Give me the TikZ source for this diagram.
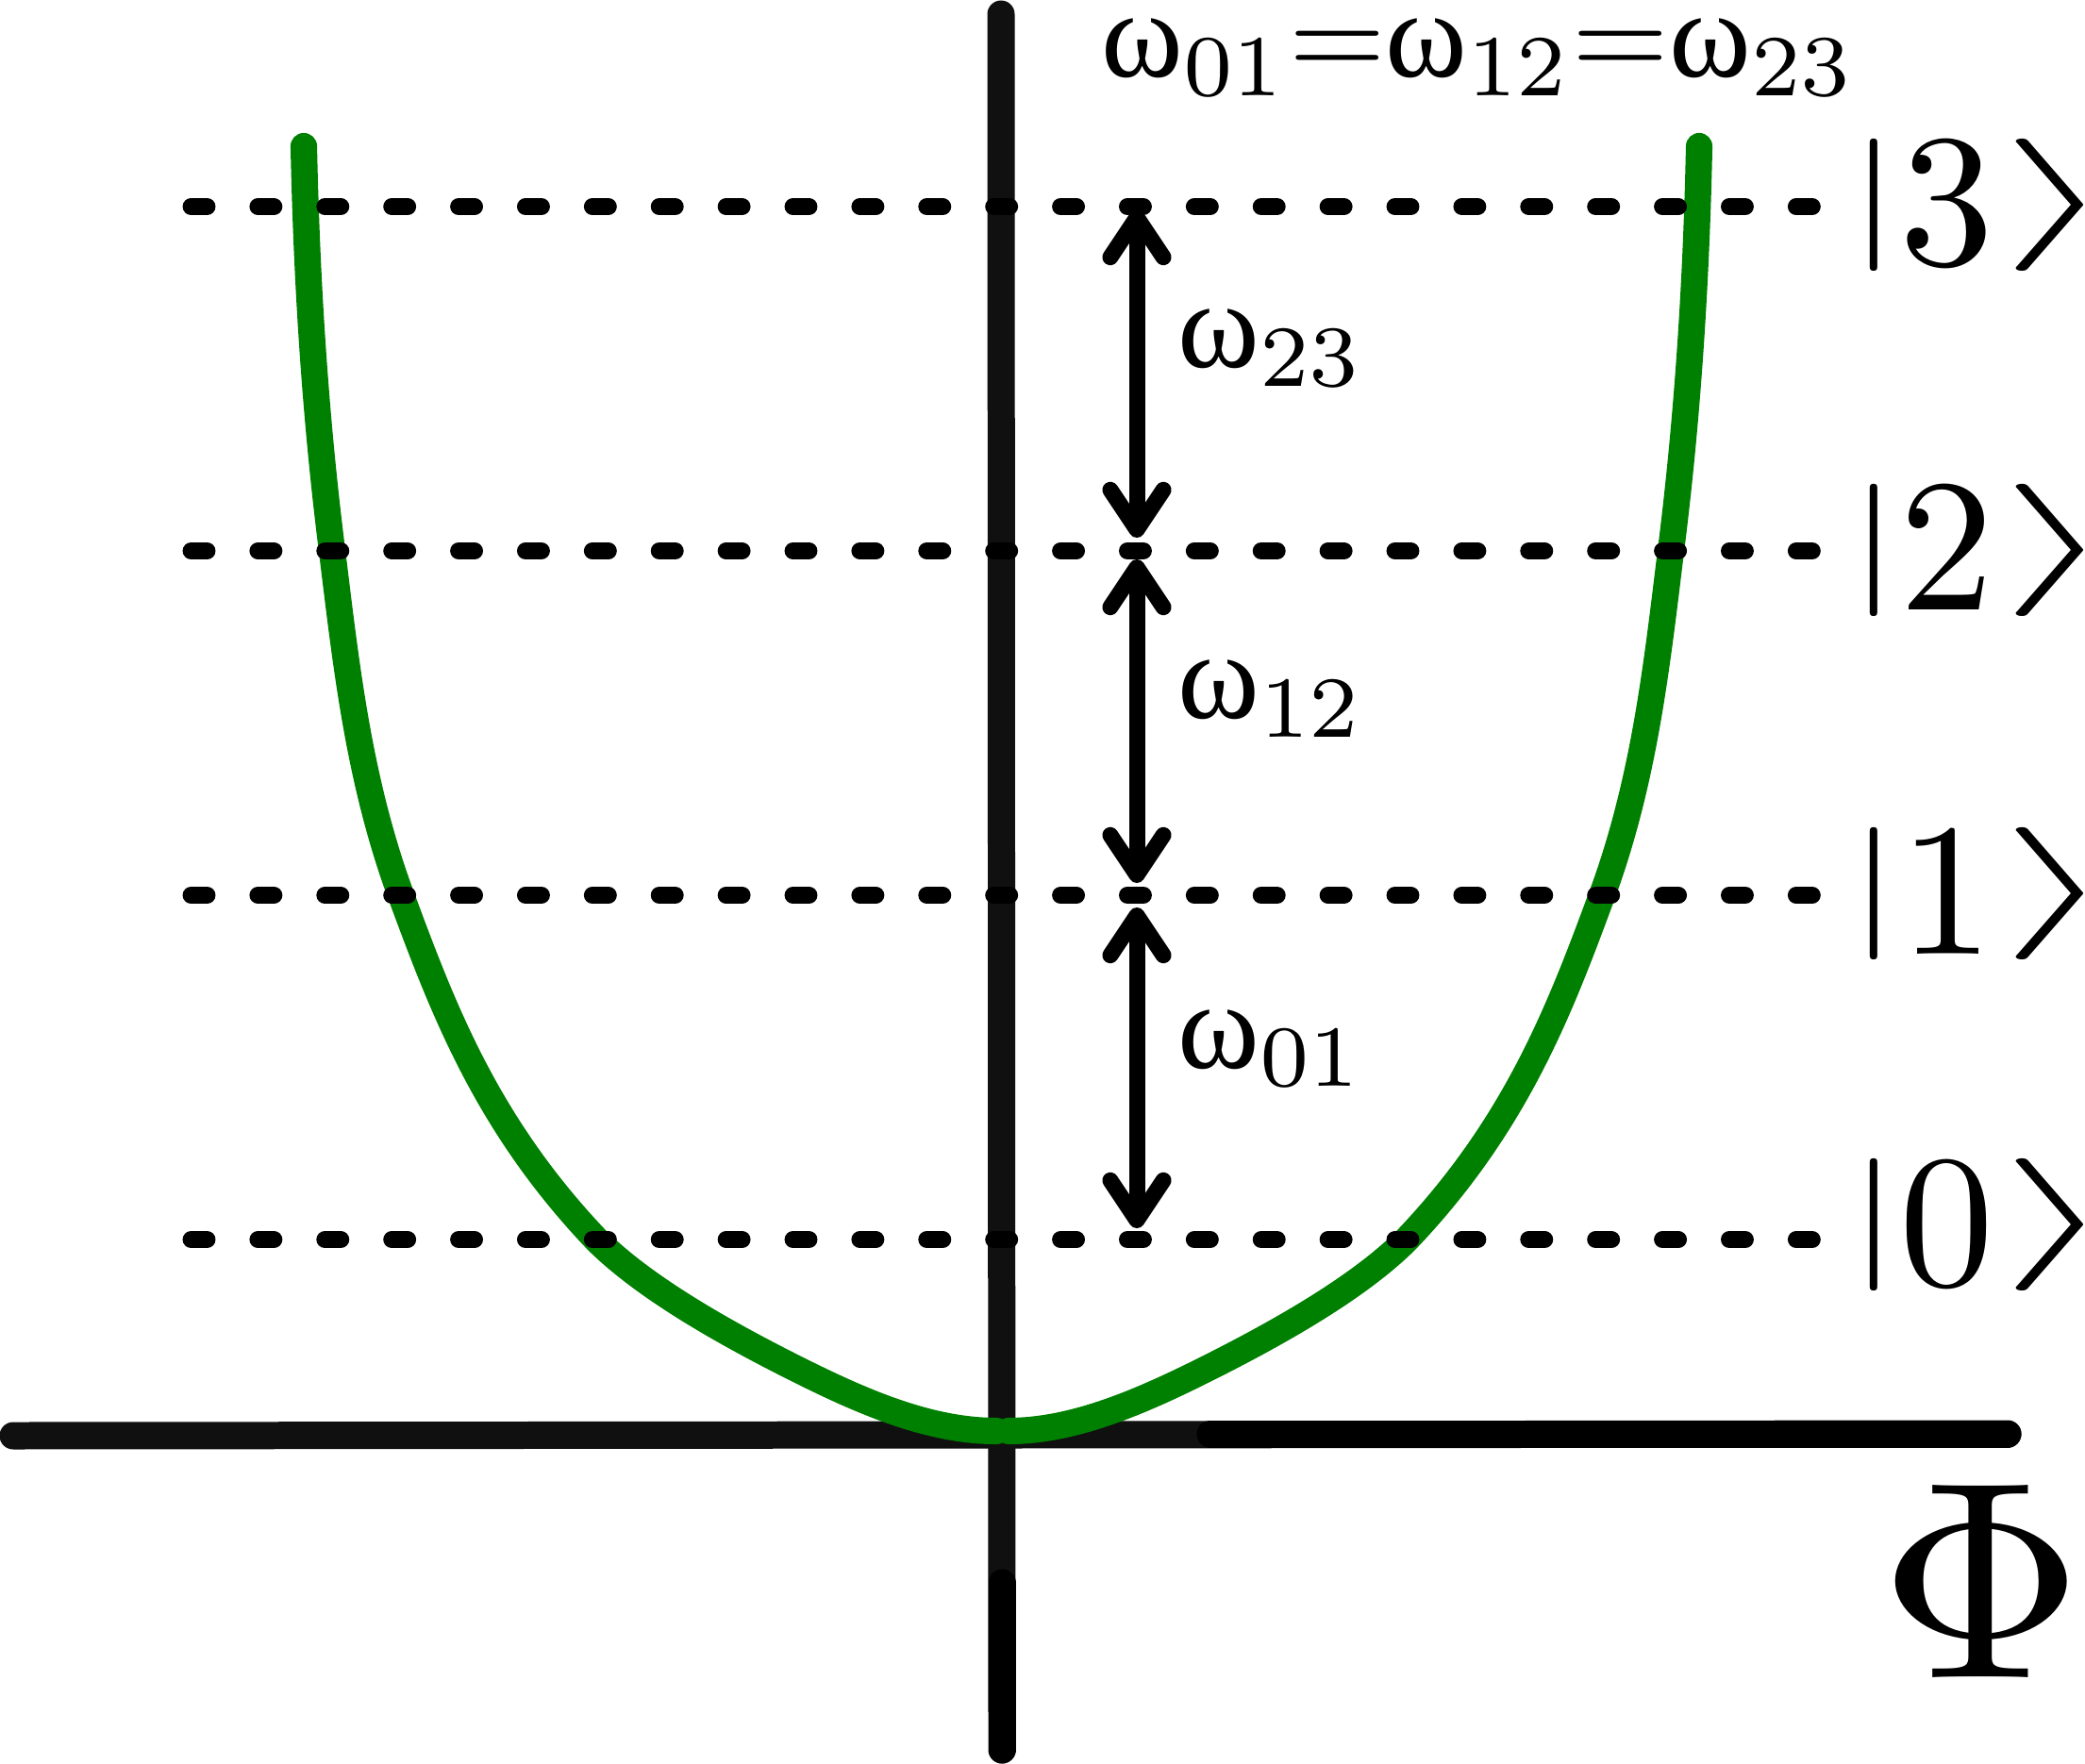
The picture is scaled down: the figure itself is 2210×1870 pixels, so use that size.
\documentclass[tikz,border=0pt]{standalone}
\usepackage{fontspec}
\usepackage{graphicx}
\usetikzlibrary{arrows.meta}
\newfontfamily\omfont{Liberation Serif}
\definecolor{curvegreen}{RGB}{0,128,0}
\definecolor{axisgray}{RGB}{16,16,16}
\newcommand{\kbar}{\raisebox{0.14em}{\scalebox{1}[0.7]{$\vert$}}}
\newcommand{\kang}{\kern0.03em\raisebox{0.14em}{\scalebox{1.6}[0.7]{$\rangle$}}}
\newcommand{\om}{\mbox{\omfont ω}}
\begin{document}
\begin{tikzpicture}[x=0.1mm,y=-0.1mm,
  axis/.style={line width=8.25pt, draw=axisgray, line cap=round},
  axisblk/.style={line width=8.25pt, draw=black, line cap=round},
  level/.style={line width=5.1pt, line cap=round, dash pattern=on 4.84pt off 15.33pt},
  pot/.style={line width=8pt, draw=curvegreen, line cap=round, line join=round},
  gap/.style={line width=4.84pt, {Straight Barb[round,length=12pt,width=16pt]}-{Straight Barb[round,length=12pt,width=16pt]}},
  lab/.style={inner sep=0pt, anchor=base west, scale=3.75},
  ket/.style={inner sep=0pt, anchor=base west, scale=5.7},
]
\useasboundingbox (0,0) rectangle (2210,1870);
% axes
\coordinate (vt) at (1061,15);
\coordinate (vb) at (1062,1855);
\coordinate (vbm) at (1062,1678);
\coordinate (hl) at (14,1522);
\coordinate (hr) at (2128,1520);
\coordinate (hrm) at (1283,1520);
\draw[axis] (vt) -- (vb);
\draw[axis] (hl) -- (hr);
\draw[axisblk] (vbm) -- (vb);
\draw[axisblk] (hrm) -- (hr);
% potential (two halves meeting at the minimum)
\coordinate (pl) at (322,155);
\coordinate (ml) at (1056,1517);
\coordinate (mr) at (1069,1517);
\coordinate (pr) at (1801,155);
\draw[pot] (pl) .. controls (325,298) and (334,441) .. (352,584)
  .. controls (367,706) and (380,827) .. (425,949)
  .. controls (470,1071) and (516,1192) .. (632,1314)
  .. controls (678,1360) and (754,1406) .. (846,1452)
  .. controls (916,1487) and (986,1517) .. (ml);
\draw[pot] (mr) .. controls (1137,1517) and (1207,1487) .. (1277,1452)
  .. controls (1369,1406) and (1445,1360) .. (1491,1314)
  .. controls (1607,1192) and (1653,1071) .. (1698,949)
  .. controls (1743,827) and (1756,706) .. (1771,584)
  .. controls (1789,441) and (1798,298) .. (pr);
% levels
\foreach \n/\y in {3/219,2/584,1/949,0/1314}{
  \coordinate (l\n a) at (202.5,\y);
  \coordinate (l\n b) at (1921,\y);
  \draw[level] (l\n a) -- (l\n b);
}
% gaps
\coordinate (g3t) at (1205,222);
\coordinate (g3b) at (1205,570);
\coordinate (g2t) at (1205,593);
\coordinate (g2b) at (1205,936);
\coordinate (g1t) at (1205,962);
\coordinate (g1b) at (1205,1302);
\draw[gap] (g3t) -- (g3b);
\draw[gap] (g2t) -- (g2b);
\draw[gap] (g1t) -- (g1b);
% labels
\node[lab] (top) at (1165,82) {$\om_{01}{=}\om_{12}{=}\om_{23}$};
\node[lab] (w23) at (1246,390) {$\om_{23}$};
\node[lab] (w12) at (1246,762) {$\om_{12}$};
\node[lab] (w01) at (1246,1132) {$\om_{01}$};
\node[ket] (k3) at (1954,281) {\kbar3\kang};
\node[ket] (k2) at (1954,647) {\kbar2\kang};
\node[ket] (k1) at (1954,1011) {\kbar1\kang};
\node[ket] (k0) at (1954,1362) {\kbar0\kang};
\node[inner sep=0pt, anchor=base west, scale=8.5] (phi) at (1986,1778) {$\Phi$};
\end{tikzpicture}
\end{document}
